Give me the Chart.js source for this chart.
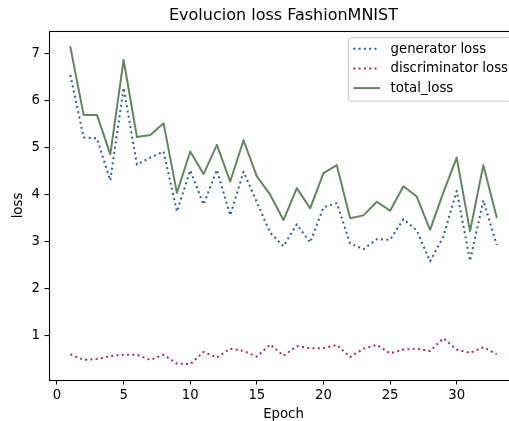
<!DOCTYPE html>
<html>
<head>
<meta charset="utf-8">
<title>Evolucion loss FashionMNIST</title>
<script src="https://cdn.jsdelivr.net/npm/chart.js@4/dist/chart.umd.min.js"></script>
<style>
  html, body { margin: 0; padding: 0; background: #fff; overflow: hidden; }
  #wrap { position: relative; width: 509px; height: 421px; overflow: hidden; }
  canvas { display: block; }
</style>
</head>
<body>
<div id="wrap"><canvas id="c" width="530" height="421"></canvas></div>
<script>
// Training history per epoch
const epochs = [1,2,3,4,5,6,7,8,9,10,11,12,13,14,15,16,17,18,19,20,21,22,23,24,25,26,27,28,29,30,31,32,33];
const generatorLoss = [6.55,5.22,5.20,4.30,6.28,4.64,4.79,4.92,3.64,4.52,3.79,4.53,3.56,4.49,3.84,3.19,2.90,3.37,2.98,3.73,3.82,2.96,2.84,3.05,3.04,3.48,3.24,2.58,3.11,4.08,2.59,3.88,2.93];
const discriminatorLoss = [0.60,0.48,0.50,0.56,0.59,0.59,0.48,0.59,0.40,0.39,0.65,0.53,0.72,0.67,0.55,0.81,0.57,0.77,0.73,0.73,0.80,0.54,0.72,0.80,0.62,0.70,0.72,0.67,0.94,0.70,0.63,0.75,0.60];
const totalLoss = [7.15,5.70,5.70,4.86,6.87,5.23,5.27,5.52,4.04,4.92,4.44,5.06,4.28,5.16,4.39,4.00,3.46,4.14,3.71,4.46,4.63,3.50,3.56,3.85,3.66,4.18,3.96,3.25,4.05,4.79,3.22,4.63,3.52];

const seriesLabels = ['generator loss', 'discriminator loss', 'total_loss'];
const xTicks = [0, 5, 10, 15, 20, 25, 30];
const yTicks = [1, 2, 3, 4, 5, 6, 7];

const FONT = 'DejaVu Sans';
const colors = { gen: '#2a5e9b', disc: '#b3266b', total: '#5e8a5b' };

// axis limits with 5% margins around the data
function padded(values) {
  const lo = Math.min(...values), hi = Math.max(...values);
  const m = (hi - lo) * 0.05;
  return [lo - m, hi + m];
}
const [xMin, xMax] = padded(epochs);
const [yMin, yMax] = padded(generatorLoss.concat(discriminatorLoss, totalLoss));

const toPoints = arr => epochs.map((e, i) => ({ x: e, y: arr[i] }));

// frame around the plotting area
const framePlugin = {
  id: 'frame',
  afterDatasetsDraw(chart) {
    const { ctx, chartArea: a } = chart;
    ctx.save();
    ctx.strokeStyle = '#000';
    ctx.lineWidth = 1.07;
    ctx.strokeRect(Math.floor(a.left) + 0.5, Math.floor(a.top) + 0.5,
      Math.round(a.right - a.left), Math.round(a.bottom - a.top));
    ctx.restore();
  }
};

// legend box in the upper right corner of the plot
const boxLegend = {
  id: 'boxLegend',
  afterDraw(chart) {
    const { ctx, chartArea: a } = chart;
    const fs = 13.3;
    const pad = 6.7;
    const boxRight = a.right - pad;
    const boxTop = a.top + pad;
    ctx.save();
    ctx.font = fs + 'px "' + FONT + '"';
    const textW = Math.max(...chart.data.datasets.map(d => ctx.measureText(d.label).width));
    const handleLen = 2.0 * fs, handlePad = 0.8 * fs, border = 5;
    const rowH = 19.7;
    const boxW = border + handleLen + handlePad + textW + border;
    const boxH = 63.5;
    const boxLeft = Math.max(boxRight - boxW, 348.3);
    // rounded frame
    const r = 2.7;
    ctx.beginPath();
    ctx.moveTo(boxLeft + r, boxTop);
    ctx.lineTo(boxRight - r, boxTop);
    ctx.quadraticCurveTo(boxRight, boxTop, boxRight, boxTop + r);
    ctx.lineTo(boxRight, boxTop + boxH - r);
    ctx.quadraticCurveTo(boxRight, boxTop + boxH, boxRight - r, boxTop + boxH);
    ctx.lineTo(boxLeft + r, boxTop + boxH);
    ctx.quadraticCurveTo(boxLeft, boxTop + boxH, boxLeft, boxTop + boxH - r);
    ctx.lineTo(boxLeft, boxTop + r);
    ctx.quadraticCurveTo(boxLeft, boxTop, boxLeft + r, boxTop);
    ctx.closePath();
    ctx.fillStyle = 'rgba(255,255,255,0.8)';
    ctx.fill();
    ctx.strokeStyle = '#cccccc';
    ctx.lineWidth = 1;
    ctx.stroke();
    chart.data.datasets.forEach((d, i) => {
      const cy = boxTop + 11 + rowH * i;
      const hx = boxLeft + border;
      ctx.beginPath();
      ctx.setLineDash(d.borderDash || []);
      ctx.lineCap = 'butt';
      ctx.strokeStyle = d.borderColor;
      ctx.lineWidth = d.borderWidth;
      ctx.moveTo(hx, cy);
      ctx.lineTo(hx + handleLen, cy);
      ctx.stroke();
      ctx.setLineDash([]);
      ctx.fillStyle = '#000';
      ctx.textBaseline = 'middle';
      ctx.textAlign = 'left';
      ctx.fillText(d.label, hx + handleLen + handlePad, cy + 0.5);
    });
    ctx.restore();
  }
};

new Chart(document.getElementById('c'), {
  type: 'line',
  data: {
    datasets: [
      { label: seriesLabels[0], data: toPoints(generatorLoss), borderColor: colors.gen,
        borderWidth: 2, borderDash: [2, 3.3], borderCapStyle: 'butt' },
      { label: seriesLabels[1], data: toPoints(discriminatorLoss), borderColor: colors.disc,
        borderWidth: 2, borderDash: [2, 3.3], borderCapStyle: 'butt' },
      { label: seriesLabels[2], data: toPoints(totalLoss), borderColor: colors.total,
        borderWidth: 2, borderCapStyle: 'round' }
    ]
  },
  options: {
    responsive: false,
    animation: false,
    events: [],
    layout: { padding: { left: 0, right: 12, top: 0, bottom: 0 } },
    elements: { point: { radius: 0 }, line: { tension: 0, fill: false, borderJoinStyle: 'round' } },
    plugins: {
      legend: { display: false },
      tooltip: { enabled: false },
      title: {
        display: true,
        fullSize: false,
        text: 'Evolucion loss FashionMNIST',
        color: '#000',
        font: { family: FONT, size: 16, weight: 'normal', lineHeight: 1.2 },
        padding: { top: 6.5, bottom: 5.3 }
      }
    },
    scales: {
      x: {
        type: 'linear',
        min: xMin, max: xMax,
        afterBuildTicks: axis => { axis.ticks = xTicks.map(v => ({ value: v })); },
        afterFit: axis => { axis.height = 41; },
        border: { display: false },
        grid: { drawOnChartArea: false, drawTicks: true, tickLength: 4.5, color: '#000', lineWidth: 1.07 },
        ticks: { color: '#000', padding: 3, font: { family: FONT, size: 13.3 }, maxRotation: 0 },
        title: { display: true, text: 'Epoch', color: '#000', font: { family: FONT, size: 13.3, lineHeight: 1 }, padding: { top: 0, bottom: 0 } }
      },
      y: {
        type: 'linear',
        min: yMin, max: yMax,
        afterBuildTicks: axis => { axis.ticks = yTicks.map(v => ({ value: v })); },
        afterFit: axis => { axis.width = 49; },
        border: { display: false },
        grid: { drawOnChartArea: false, drawTicks: true, tickLength: 4.5, color: '#000', lineWidth: 1.07 },
        ticks: { color: '#000', padding: 4.5, font: { family: FONT, size: 13.3 } },
        title: { display: true, text: 'loss', color: '#000', font: { family: FONT, size: 13.3, lineHeight: 1 }, padding: { top: 12, bottom: 0 } }
      }
    }
  },
  plugins: [framePlugin, boxLegend]
});
</script>
</body>
</html>
